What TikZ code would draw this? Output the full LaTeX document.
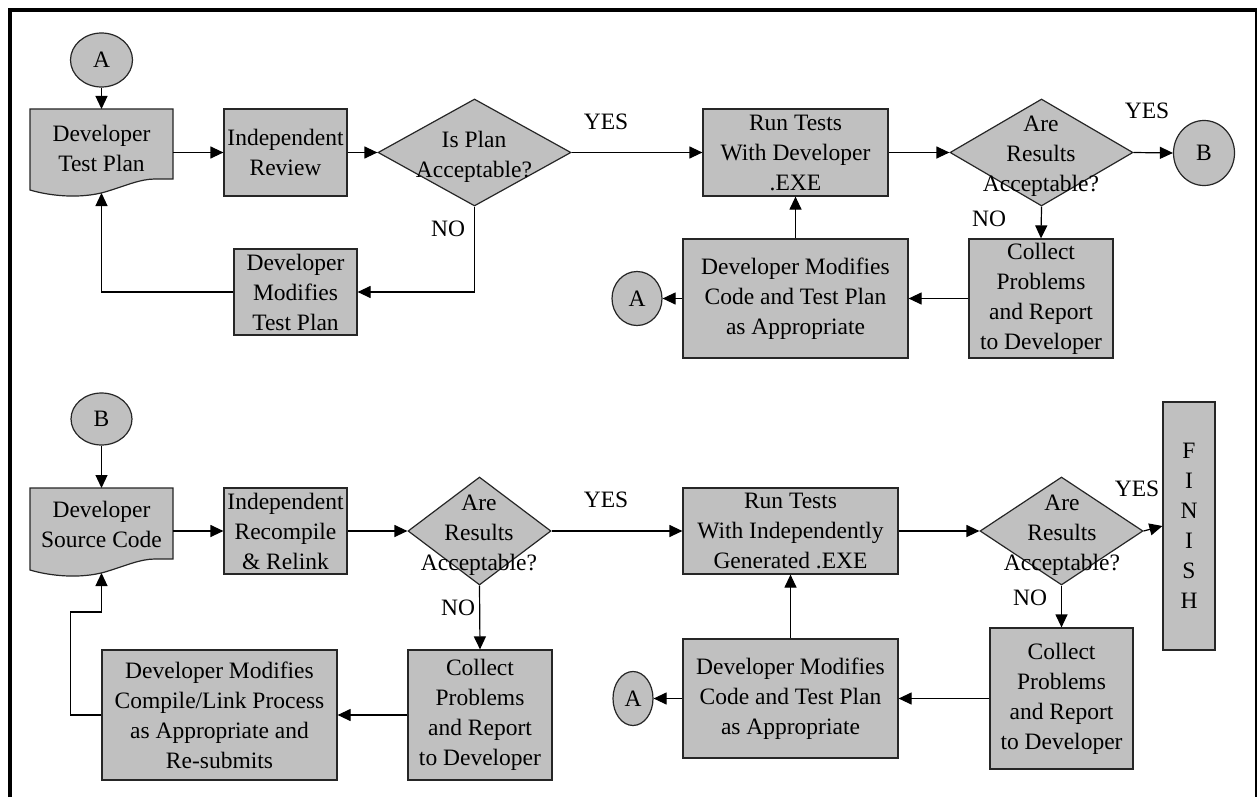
\documentclass[tikz,border=0pt]{standalone}
\usepackage{fontspec}
\setmainfont{Liberation Serif}
\usetikzlibrary{arrows.meta,shapes.geometric}
\definecolor{boxgray}{HTML}{C0C0C0}
\begin{document}
\begin{tikzpicture}[x=1pt,y=-1pt,
  every node/.style={font=\fontsize{23.5}{30}\selectfont, inner sep=0pt, align=center},
  pbox/.style={draw=black!85, fill=boxgray, line width=1.2pt},
  circ/.style={ellipse, draw=black!85, fill=boxgray, line width=1.2pt},
  dia/.style={diamond, draw=black!85, fill=boxgray, line width=1.2pt},
  docshape/.style={draw=black!85, fill=boxgray, line width=1.2pt},
  conn/.style={draw=black, line width=1.2pt, -{Triangle[length=13pt,width=12pt]}},
  lbl/.style={}]
\useasboundingbox (0,0) rectangle (1257,797);
\fill[white] (0,0) rectangle (1257,797);
% frame
\draw[line width=3.4pt] (10,797) -- (10,10) -- (1257,10);
\draw[line width=2pt] (1256,10) -- (1256,797);

% ---------- top row ----------
\node[circ, minimum width=62, minimum height=54] (a1) at (101.5,60) {A};
\path[docshape] (30,109) -- (173,109) -- (173,179) -- (155,179)
  .. controls (140,179) and (125,186) .. (105,192)
  .. controls (80,199) and (50,196) .. (30,190) -- cycle;
\node (dtp) at (101.5,148) {Developer\\Test Plan};
\coordinate (dtpT) at (101.5,109);
\coordinate (dtpR) at (173,152.5);
\coordinate (dtpB) at (101.5,193);
\node[pbox, minimum width=123, minimum height=87] (ir) at (285.5,152.5) {Independent\\Review};
\node[dia, minimum width=193, minimum height=107] (d1) at (474.5,152.5) {};
\node (d1t) at (474,156.5) {Is Plan\\Acceptable?};
\node[lbl] (yes1) at (606,122) {YES};
\node[pbox, minimum width=185, minimum height=87] (rt1) at (795.5,152.5) {Run Tests\\With Developer\\.EXE};
\node[lbl] (no1) at (448,229) {NO};
\node[pbox, minimum width=123, minimum height=86] (dmtp) at (295.5,292) {Developer\\Modifies\\Test Plan};
\node[dia, minimum width=183, minimum height=107] (d2) at (1041.5,152.5) {};
\node (d2t) at (1041,156.5) {Are\\Results\\Acceptable?};
\node[lbl] (yes2) at (1147,111) {YES};
\node[circ, minimum width=61, minimum height=65] (b1) at (1204,153) {B};
\node[lbl] (no2) at (989,219) {NO};
\node[pbox, minimum width=144, minimum height=119] (col1) at (1041,298.5) {Collect\\Problems\\and Report\\to Developer};
\node[pbox, minimum width=225, minimum height=119] (dmc1) at (795.5,298.5) {Developer Modifies\\Code and Test Plan\\as Appropriate};
\node[circ, minimum width=50, minimum height=54] (a2) at (637,298.5) {A};

\draw[conn] (a1) -- (dtpT);
\draw[conn] (dtpR) -- (ir.west);
\draw[conn] (ir.east) -- (d1.west);
\draw[conn] (d1.east) -- (rt1.west);
\draw[conn] (d1.south) |- (dmtp.east);
\draw[conn] (dmtp.west) -| (dtpB);
\draw[conn] (rt1.east) -- (d2.west);
\draw[conn] (d2.east) -- (b1.west);
\draw[conn] (d2.south) -- (col1.north);
\draw[conn] (col1.west) -- (dmc1.east);
\draw[conn] (dmc1.north) -- (rt1.south);
\draw[conn] (dmc1.west) -- (a2.east);

% ---------- bottom row ----------
\node[circ, minimum width=61, minimum height=52] (b2) at (101.5,419) {B};
\path[docshape] (30,488) -- (173,488) -- (173,559) -- (155,559)
  .. controls (140,559) and (125,566) .. (105,572)
  .. controls (80,579) and (50,576) .. (30,570) -- cycle;
\node (dsc) at (101.5,524.5) {Developer\\Source Code};
\coordinate (dscT) at (101.5,488);
\coordinate (dscR) at (173,531);
\coordinate (dscB) at (101.5,573);
\coordinate (dscK) at (101.5,612);
\node[pbox, minimum width=123, minimum height=86] (irr) at (285.5,531) {Independent\\Recompile\\\& Relink};
\node[dia, minimum width=143, minimum height=108] (d3) at (479.5,531) {};
\node (d3t) at (479,535) {Are\\Results\\Acceptable?};
\node[lbl] (yes3) at (606,500) {YES};
\node[pbox, minimum width=215, minimum height=86] (rt2) at (790.5,531) {Run Tests\\With Independently\\Generated .EXE};
\node[lbl] (no3) at (458,608) {NO};
\node[pbox, minimum width=144, minimum height=130] (col2) at (480,715) {Collect\\Problems\\and Report\\to Developer};
\node[pbox, minimum width=235, minimum height=130] (dmcl) at (219.5,715) {Developer Modifies\\Compile/Link Process\\as Appropriate and\\Re-submits};
\node[dia, minimum width=163, minimum height=108] (d4) at (1061.5,531) {};
\node (d4t) at (1062,535) {Are\\Results\\Acceptable?};
\node[lbl] (yes4) at (1137,489) {YES};
\node[pbox, minimum width=52, minimum height=248] (fin) at (1189,526) {F\\I\\N\\I\\S\\H};
\node[lbl] (no4) at (1030,598) {NO};
\node[pbox, minimum width=143, minimum height=141] (col3) at (1061.5,698.5) {Collect\\Problems\\and Report\\to Developer};
\node[pbox, minimum width=215, minimum height=119] (dmc2) at (790.5,698.5) {Developer Modifies\\Code and Test Plan\\as Appropriate};
\node[circ, minimum width=40, minimum height=54] (a3) at (633,698.5) {A};

\draw[conn] (b2) -- (dscT);
\draw[conn] (dscR) -- (irr.west);
\draw[conn] (irr.east) -- (d3.west);
\draw[conn] (d3.east) -- (rt2.west);
\draw[conn] (d3.south) -- (col2.north);
\draw[conn] (col2.west) -- (dmcl.east);
\draw[conn] (dmcl.west) -- ++(-31,0) |- (dscK) -- (dscB);
\draw[conn] (rt2.east) -- (d4.west);
\draw[conn] (d4.east) -- (fin.west);
\draw[conn] (d4.south) -- (col3.north);
\draw[conn] (col3.west) -- (dmc2.east);
\draw[conn] (dmc2.north) -- (rt2.south);
\draw[conn] (dmc2.west) -- (a3.east);
\end{tikzpicture}
\end{document}
